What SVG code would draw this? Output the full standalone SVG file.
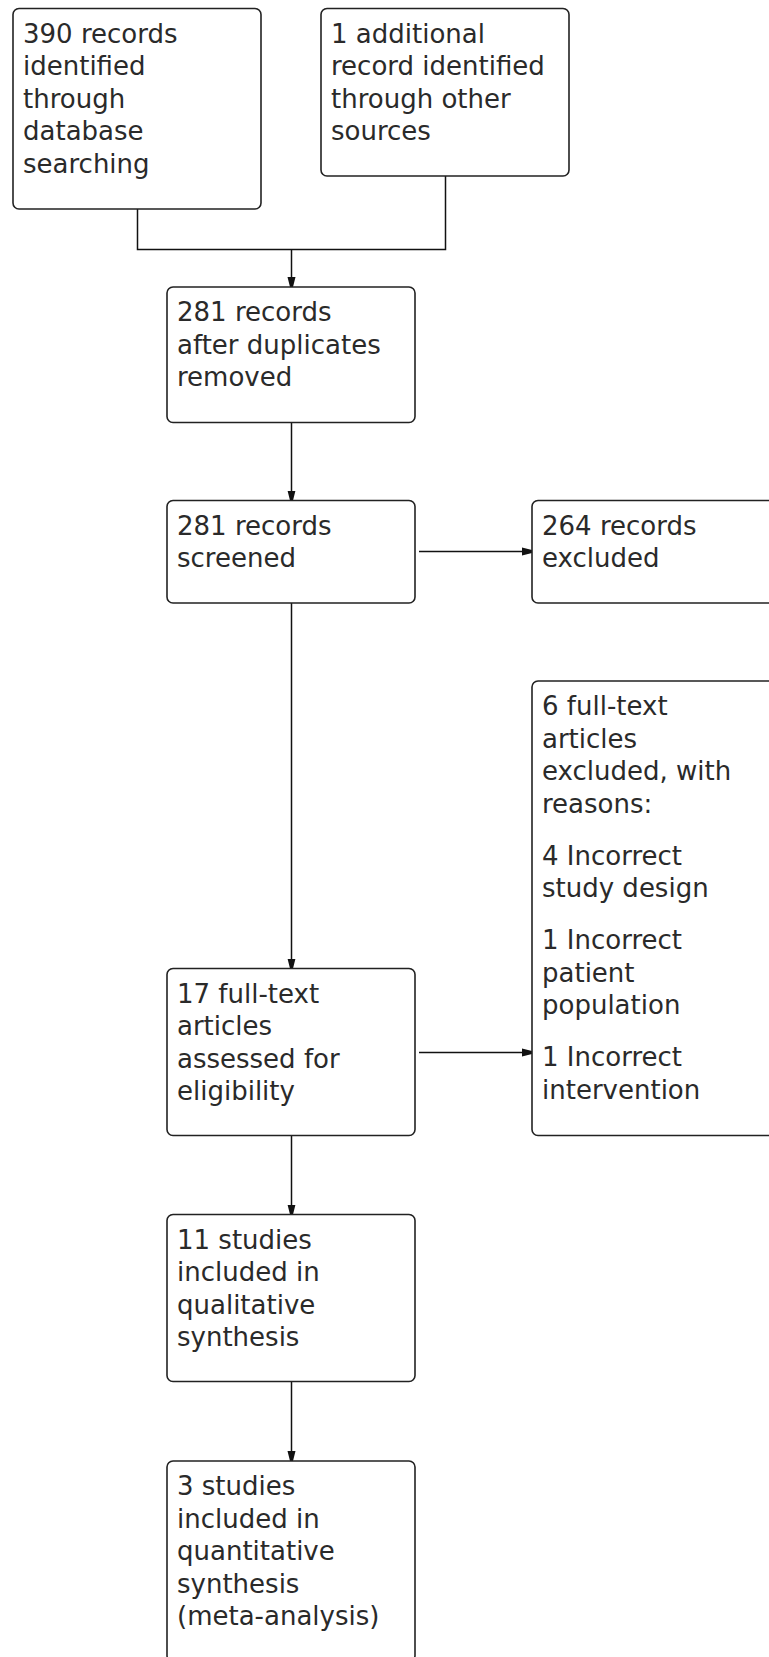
<svg xmlns="http://www.w3.org/2000/svg" width="769" height="1657" viewBox="0 0 769 1657">
<style>
.box{fill:#fff;stroke:#222;stroke-width:1.6}
.t{font-family:"DejaVu Sans",Verdana,sans-serif;font-size:26px;fill:#2a2a2a}
.c{fill:none;stroke:#111;stroke-width:1.5}
</style>
<defs>
<marker id="ah" markerUnits="userSpaceOnUse" markerWidth="11" markerHeight="10" refX="10" refY="5" orient="auto">
<path d="M0,1 L10,3.5 L10,6.5 L0,9 z" fill="#111"/>
</marker>
</defs>
<rect width="769" height="1657" fill="#fff"/>
<g id="connectors">
<path class="c" d="M137.5,209 V249.5 H445.5 V176"/>
<path class="c" d="M291.5,249.5 V287" marker-end="url(#ah)"/>
<path class="c" d="M291.5,422.5 V500.5" marker-end="url(#ah)"/>
<path class="c" d="M291.5,603 V968.5" marker-end="url(#ah)"/>
<path class="c" d="M291.5,1135.5 V1214.5" marker-end="url(#ah)"/>
<path class="c" d="M291.5,1381.5 V1461" marker-end="url(#ah)"/>
<path class="c" d="M419,551.5 H532" marker-end="url(#ah)"/>
<path class="c" d="M419,1052.5 H532" marker-end="url(#ah)"/>
</g>
<g id="n1">
<rect class="box" x="13" y="8.5" width="248" height="200.5" rx="6"/>
<text class="t" x="23" y="42.5">390 records</text>
<text class="t" x="23" y="75">identified</text>
<text class="t" x="23" y="107.5">through</text>
<text class="t" x="23" y="140">database</text>
<text class="t" x="23" y="172.5">searching</text>
</g>
<g id="n2">
<rect class="box" x="321" y="8.5" width="248" height="167.5" rx="6"/>
<text class="t" x="331" y="42.5">1 additional</text>
<text class="t" x="331" y="75">record identified</text>
<text class="t" x="331" y="107.5">through other</text>
<text class="t" x="331" y="140">sources</text>
</g>
<g id="n3">
<rect class="box" x="167" y="287" width="248" height="135.5" rx="6"/>
<text class="t" x="177" y="321">281 records</text>
<text class="t" x="177" y="353.5">after duplicates</text>
<text class="t" x="177" y="386">removed</text>
</g>
<g id="n4">
<rect class="box" x="167" y="500.5" width="248" height="102.5" rx="6"/>
<text class="t" x="177" y="534.5">281 records</text>
<text class="t" x="177" y="567">screened</text>
</g>
<g id="n5">
<rect class="box" x="532" y="500.5" width="248" height="102.5" rx="6"/>
<text class="t" x="542" y="534.5">264 records</text>
<text class="t" x="542" y="567">excluded</text>
</g>
<g id="n6">
<rect class="box" x="532" y="681" width="248" height="454.5" rx="6"/>
<text class="t" x="542" y="715">6 full-text</text>
<text class="t" x="542" y="747.5">articles</text>
<text class="t" x="542" y="780">excluded, with</text>
<text class="t" x="542" y="812.5">reasons:</text>
<text class="t" x="542" y="864.5">4 Incorrect</text>
<text class="t" x="542" y="897">study design</text>
<text class="t" x="542" y="949">1 Incorrect</text>
<text class="t" x="542" y="981.5">patient</text>
<text class="t" x="542" y="1014">population</text>
<text class="t" x="542" y="1066">1 Incorrect</text>
<text class="t" x="542" y="1098.5">intervention</text>
</g>
<g id="n7">
<rect class="box" x="167" y="968.5" width="248" height="167" rx="6"/>
<text class="t" x="177" y="1002.5">17 full-text</text>
<text class="t" x="177" y="1035">articles</text>
<text class="t" x="177" y="1067.5">assessed for</text>
<text class="t" x="177" y="1100">eligibility</text>
</g>
<g id="n8">
<rect class="box" x="167" y="1214.5" width="248" height="167" rx="6"/>
<text class="t" x="177" y="1248.5">11 studies</text>
<text class="t" x="177" y="1281">included in</text>
<text class="t" x="177" y="1313.5">qualitative</text>
<text class="t" x="177" y="1346">synthesis</text>
</g>
<g id="n9">
<rect class="box" x="167" y="1461" width="248" height="200.5" rx="6"/>
<text class="t" x="177" y="1495">3 studies</text>
<text class="t" x="177" y="1527.5">included in</text>
<text class="t" x="177" y="1560">quantitative</text>
<text class="t" x="177" y="1592.5">synthesis</text>
<text class="t" x="177" y="1625">(meta-analysis)</text>
</g>
</svg>
